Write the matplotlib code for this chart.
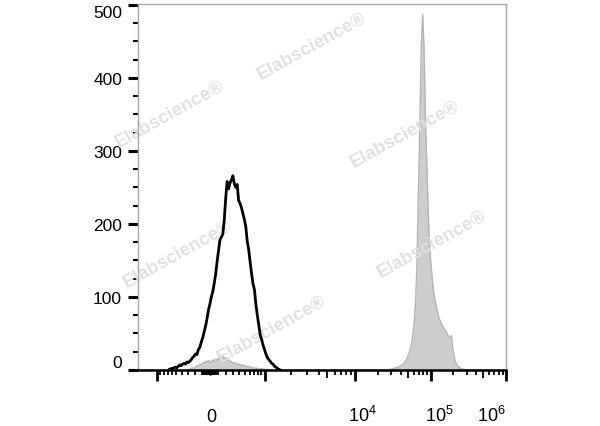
import numpy as np
import matplotlib
matplotlib.use('Agg')
import matplotlib.pyplot as plt

# histogram counts per display channel (256 channels across the x axis)
black_start = 22
black_counts = [1, 2, 2, 3, 4, 3, 5, 7, 6, 8, 9, 8, 11, 10, 12, 14, 17, 19, 22, 21,
                28, 31, 38, 44, 52, 60, 70, 82, 90, 100, 107, 118, 131, 148, 163, 178,
                182, 186, 205, 235, 258, 248, 256, 260, 266, 255, 250, 254, 232, 228,
                222, 214, 206, 196, 176, 165, 148, 132, 118, 110, 90, 75, 62, 48, 42,
                34, 28, 22, 17, 14, 12, 9, 8, 5, 4, 2, 1, 0]

gray_low_start = 35
gray_low_counts = [0, 1, 2, 3, 2, 4, 6, 5, 8, 7, 10, 9, 12, 11, 13, 10, 12, 14, 11, 15,
                   13, 16, 14, 18, 21, 15, 17, 13, 14, 11, 12, 9, 10, 8, 9, 7, 8, 6, 7,
                   5, 6, 4, 5, 3, 4, 3, 2, 3, 2, 2, 1, 2, 1, 1, 0, 1, 0]

gray_high_start = 174
gray_high_counts = [0, 1, 1, 2, 2, 3, 3, 4, 5, 6, 7, 9, 12, 15, 20, 26, 33, 45, 62, 90,
                    140, 240, 330, 440, 487, 440, 340, 275, 210, 165, 140, 118, 102, 92,
                    82, 74, 68, 63, 60, 56, 54, 50, 46, 44, 47, 30, 18, 10, 7, 4, 3, 2,
                    1, 1, 0]

y_major = [0, 100, 200, 300, 400, 500]
x_major_vals = [-1000, 0, 1000, 1e4, 1e5, 1e6]
x_labels = ['0', r'$\mathregular{10^4}$', r'$\mathregular{10^5}$', r'$\mathregular{10^6}$']
x_label_vals = [0, 1e4, 1e5, 1e6]

plt.rcParams['font.family'] = ['Liberation Sans', 'DejaVu Sans']
plt.rcParams['mathtext.fontset'] = 'custom'
plt.rcParams['mathtext.rm'] = 'Liberation Sans'

# biexponential-like display transform: value -> channel
anchor_ch = [13.4, 50.1, 88.0, 151.0, 203.6, 256.0]


def to_channel(v):
    u = np.arcsinh(np.asarray(v, float) / 400)
    return np.interp(u, np.arcsinh(np.array(x_major_vals) / 400), anchor_ch)


# build full gray histogram
gray = np.zeros(256)
gray[gray_low_start:gray_low_start + len(gray_low_counts)] = gray_low_counts
gray[gray_high_start:gray_high_start + len(gray_high_counts)] = gray_high_counts
ch_all = np.arange(256)
ch_black = np.arange(black_start, black_start + len(black_counts))

fig = plt.figure(figsize=(6, 4.27), dpi=100)
ax = fig.add_axes([138 / 600, 56 / 427, 368 / 600, 366 / 427])

ax.fill_between(ch_all, gray, color='#cdcdcd', lw=0, zorder=1)
ax.plot(ch_all, gray, color='#b5b5b5', lw=1, zorder=1.2)
ax.plot(ch_black, black_counts, color='black', lw=2, zorder=3)

ax.set_xlim(0, 256)
ax.set_ylim(0, 501)

# spines
for s in ['left', 'top', 'right']:
    ax.spines[s].set_color('#a8a8a8')
    ax.spines[s].set_linewidth(1)
ax.spines['bottom'].set_color('black')
ax.spines['bottom'].set_linewidth(1.8)

# y ticks
ax.set_yticks(y_major)
ax.set_yticks([v for v in range(0, 501, 25) if v % 100], minor=True)
ax.tick_params(axis='y', which='major', length=7.5, width=2.2, color='black',
               labelsize=12.5, pad=4)
ax.tick_params(axis='y', which='minor', length=3.6, width=1.5, color='black')
ylabels = ax.get_yticklabels()
ylabels[0].set_va('bottom')
ylabels[-1].set_va('top')

# x ticks
ax.set_xticks(to_channel(x_major_vals))
ax.set_xticklabels([])
minor_vals = []
for d in [100, 1000]:
    minor_vals += [-m * d / 10 for m in range(1, 10)]
for d in [10, 100, 1000, 10000, 100000]:
    minor_vals += [m * d for m in range(2 if d >= 1000 else 1, 10)]
minor_vals = sorted(set(minor_vals) - set(x_major_vals))
ax.set_xticks(to_channel(minor_vals), minor=True)
ax.tick_params(axis='x', which='major', length=8, width=2, color='black')
ax.tick_params(axis='x', which='minor', length=3.6, width=1.3, color='black')
for t, v in zip(ax.xaxis.get_minor_ticks(len(minor_vals)), minor_vals):
    if v in (5000, 50000, 500000):
        t.tick1line.set_markersize(5.5)
zero_idx = x_major_vals.index(0)
ax.xaxis.get_major_ticks()[zero_idx].tick1line.set_markersize(3.6)

# x labels
offsets = {0: (1, 'center'), 1e4: (-7, 'left'), 1e5: (-6, 'left'), 1e6: (0, 'right')}
for lab, v in zip(x_labels, x_label_vals):
    dx, ha = offsets[v]
    ax.annotate(lab, xy=(to_channel(v), 0), xycoords=('data', 'axes fraction'),
                xytext=(dx, -55), textcoords='offset pixels',
                ha=ha, va='bottom', fontsize=13)

# watermarks
for x, y in [(312, 47), (170, 115), (405, 135), (432, 245), (178, 255), (272, 330)]:
    ax.text(x / 600, 1 - y / 427, 'Elabscience®', transform=fig.transFigure,
            rotation=29, ha='center', va='center', rotation_mode='anchor',
            fontsize=13.5, fontweight='bold', color='#e0e0e0', zorder=2, clip_on=False)

fig.savefig('out.png', dpi=100)
